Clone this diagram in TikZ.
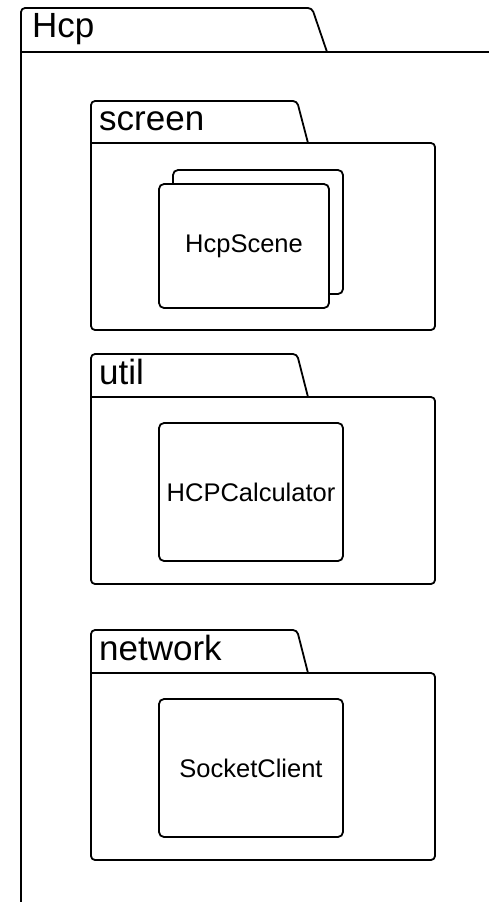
\documentclass[tikz,border=0pt]{standalone}
\usepackage{fontspec}
\setmainfont{Liberation Sans}
\usetikzlibrary{positioning}

\tikzset{
  pkgline/.style={line width=1.8pt, rounded corners=4pt, line cap=round, line join=round},
  tablabel/.style={anchor=base west, inner sep=0pt, font=\fontsize{35}{40}\selectfont},
  classbox/.style={draw, line width=1.8pt, rounded corners=5pt, fill=white,
    minimum width=184pt, minimum height=138pt, font=\fontsize{25.5}{30}\selectfont},
}

\begin{document}
\begin{tikzpicture}[x=1pt,y=-1pt]
  \useasboundingbox (0,0) rectangle (489,902);

  % outer package, runs off the page to the right and bottom
  \draw[pkgline] (21,910) -- (21,8) -- (312,8) -- (327,52);
  \draw[line width=1.8pt] (21,52) -- (500,52);
  \node[tablabel] (hcp-label) at (32,37) {Hcp};

  % the three sub-packages
  \foreach \name/\ytop/\ytab/\ybot in {screen/101/143/330,
                                       util/354/397/584,
                                       network/630/673/860} {
    \draw[pkgline] (91,\ytab) -- (91,\ytop) -- (297,\ytop) -- (308,\ytab);
    \draw[pkgline] (91,\ytab) -- (435,\ytab) -- (435,\ybot) -- (91,\ybot) -- (91,\ytab);
    \node[tablabel] (\name-label) at (99,\ytab-13) {\name};
  }

  % classes
  \node[classbox, minimum width=170pt, minimum height=124pt] (scene-back) at (258,232) {};
  \node[classbox, minimum width=170pt, minimum height=124pt] (scene) at (244,246) {HcpScene};
  \node[classbox] (calculator) at (251,492) {HCPCalculator};
  \node[classbox] (socket) at (251,768) {SocketClient};
\end{tikzpicture}
\end{document}
